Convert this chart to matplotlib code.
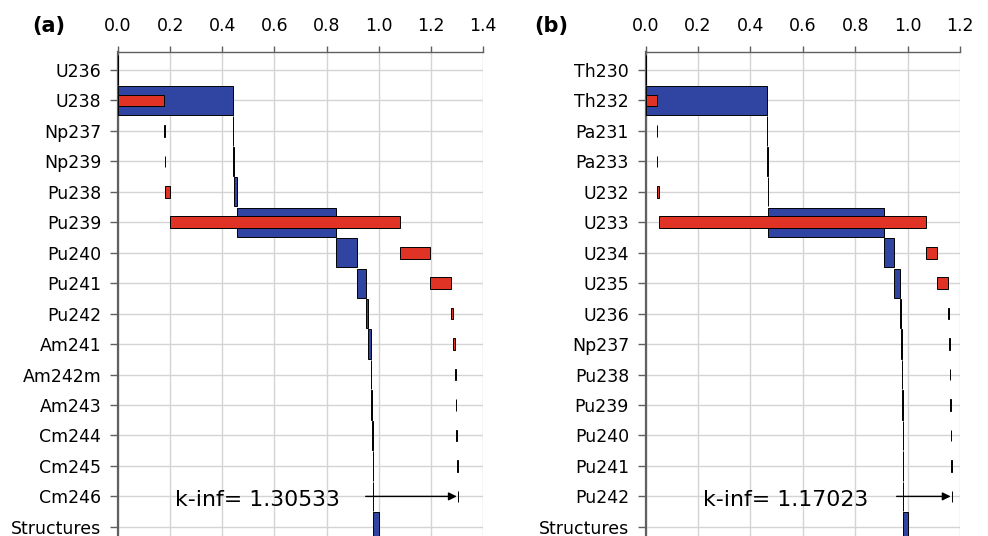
import numpy as np
import matplotlib
matplotlib.use("Agg")
import matplotlib.pyplot as plt

plt.rcParams['font.family'] = ['DejaVu Sans']

# ---------------- data ----------------
nuclides_a = ["U236", "U238", "Np237", "Np239", "Pu238", "Pu239", "Pu240", "Pu241",
              "Pu242", "Am241", "Am242m", "Am243", "Cm244", "Cm245", "Cm246", "Structures"]
absorption_a = [0.001, 0.440, 0.002, 0.001, 0.012, 0.382, 0.080, 0.033,
                0.008, 0.011, 0.002, 0.003, 0.002, 0.001, 0.001, 0.021]
production_a = [0.0005, 0.177, 0.0015, 0.0005, 0.0215, 0.882, 0.113, 0.083,
                0.007, 0.007, 0.002, 0.002, 0.002, 0.004, 0.00233, 0.0]
kinf_a = 1.30533
arrow_start_a = 0.950
xticks_a = [0.0, 0.2, 0.4, 0.6, 0.8, 1.0, 1.2, 1.4]

nuclides_b = ["Th230", "Th232", "Pa231", "Pa233", "U232", "U233", "U234", "U235",
              "U236", "Np237", "Pu238", "Pu239", "Pu240", "Pu241", "Pu242", "Structures"]
absorption_b = [0.001, 0.461, 0.002, 0.002, 0.002, 0.442, 0.038, 0.023,
                0.005, 0.002, 0.002, 0.001, 0.001, 0.001, 0.001, 0.016]
production_b = [0.0003, 0.042, 0.001, 0.0005, 0.0072, 1.019, 0.043, 0.043,
                0.002, 0.002, 0.003, 0.002, 0.0015, 0.0015, 0.00073, 0.0]
kinf_b = 1.17023
arrow_start_b = 0.958
xticks_b = [0.0, 0.2, 0.4, 0.6, 0.8, 1.0, 1.2]

BLUE = "#3044a2"
RED = "#e13325"
GRID = "#d4d4d4"
SPINE = "#606060"

fig = plt.figure(figsize=(9.88, 5.36), dpi=100)
ax_a = fig.add_axes([118 / 988, 0.0, 365 / 988, 1 - 52 / 536])
ax_b = fig.add_axes([645.7 / 988, 0.0, 314.3 / 988, 1 - 52 / 536])


def draw(ax, names, absorb, prod, kinf, arrow_start, xticks):
    n = len(names)
    y = np.arange(n)
    absorb = np.asarray(absorb)
    prod = np.asarray(prod)
    cum_a = np.cumsum(absorb)
    cum_p = np.cumsum(prod)
    ax.barh(y, absorb, left=cum_a - absorb, height=0.96, color=BLUE,
            edgecolor="black", linewidth=0.7, zorder=3)
    mask = prod > 0
    ax.barh(y[mask], prod[mask], left=(cum_p - prod)[mask], height=0.38, color=RED,
            edgecolor="black", linewidth=0.7, zorder=4)
    ax.set_xlim(xticks[0], xticks[-1])
    ax.set_ylim(15.3, -0.59)
    ax.set_yticks(y)
    ax.set_yticklabels(names, fontsize=12.5)
    ax.set_xticks(xticks)
    ax.set_xticklabels([f"{t:.1f}" for t in xticks], fontsize=12.5)
    ax.xaxis.tick_top()
    ax.tick_params(axis='x', which='both', direction='out', length=4, width=1,
                   color=SPINE, pad=8, top=True, bottom=False)
    ax.tick_params(axis='y', direction='out', length=6, width=1, color=SPINE, pad=6)
    ax.grid(True, color=GRID, linewidth=1.0, zorder=0)
    ax.set_axisbelow(True)
    for s in ["right", "bottom"]:
        ax.spines[s].set_visible(False)
    ax.spines["top"].set_color(SPINE)
    ax.spines["top"].set_linewidth(1.0)
    ax.spines["left"].set_color(SPINE)
    ax.spines["left"].set_linewidth(1.6)
    row = n - 2
    ax.annotate("", xy=(kinf - 0.006, row), xytext=(arrow_start, row),
                arrowprops=dict(arrowstyle="-|>", color="black", lw=1.0,
                                mutation_scale=12, shrinkA=0, shrinkB=0),
                zorder=5)
    ax.text(0.22, row + 0.12, f"k-inf= {kinf:.5f}", fontsize=15.8,
            ha="left", va="center", zorder=6)


draw(ax_a, nuclides_a, absorption_a, production_a, kinf_a, arrow_start_a, xticks_a)
draw(ax_b, nuclides_b, absorption_b, production_b, kinf_b, arrow_start_b, xticks_b)
fig.text(49 / 988, 1 - 26 / 536, "(a)", fontsize=15, fontweight="bold",
         ha="center", va="center")
fig.text(551 / 988, 1 - 26 / 536, "(b)", fontsize=15, fontweight="bold",
         ha="center", va="center")

fig.savefig("out.png", dpi=100)
